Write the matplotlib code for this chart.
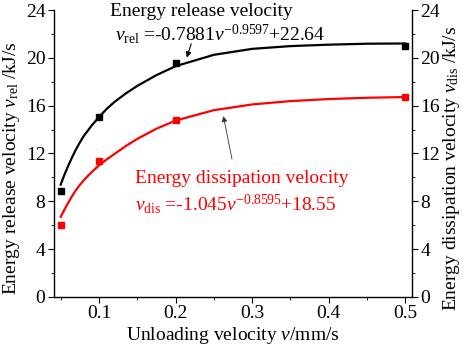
import matplotlib
matplotlib.use("Agg")
import matplotlib.pyplot as plt
from matplotlib.ticker import MultipleLocator

plt.rcParams['font.family'] = ['Liberation Serif', 'DejaVu Serif']
plt.rcParams['mathtext.fontset'] = 'custom'
plt.rcParams['mathtext.rm'] = 'Liberation Serif'
plt.rcParams['mathtext.it'] = 'Liberation Serif:italic'

# measured points
speed = [0.05, 0.1, 0.2, 0.5]
rel_pts = [8.85, 15.05, 19.6, 20.95]
dis_pts = [6.05, 11.4, 14.77, 16.7]

# fitted curves, values
curve_v = [0.05, 0.055, 0.06, 0.065, 0.07, 0.075, 0.08, 0.09, 0.1, 0.11, 0.12, 0.135, 0.15, 0.175,
           0.2, 0.25, 0.3, 0.35, 0.4, 0.45, 0.5]
rel_fit = [9.4, 10.25, 11.0, 11.7, 12.35, 12.92, 13.45, 14.3, 15.05, 15.72, 16.3, 17.02, 17.65, 18.55,
           19.3, 20.25, 20.75, 20.98, 21.1, 21.18, 21.2]
dis_fit = [6.7, 7.32, 7.9, 8.45, 8.95, 9.37, 9.75, 10.42, 11.0, 11.5, 11.95, 12.62, 13.22, 14.07,
           14.75, 15.62, 16.1, 16.38, 16.55, 16.66, 16.72]

red = '#ff0000'
fs = 14

fig = plt.figure(figsize=(4.64, 3.51), dpi=100)
ax = fig.add_axes([0.116, 0.154, 0.772, 0.8175])

ax.plot(curve_v, rel_fit, color='black', lw=1.6)
ax.plot(curve_v, dis_fit, color=red, lw=1.6)
ax.plot(speed, rel_pts, 's', color='black', ms=4.5)
ax.plot(speed, dis_pts, 's', color=red, ms=4.5)

ax.set_xlim(0.041, 0.509)
ax.set_ylim(0, 24)
ax.xaxis.set_major_locator(MultipleLocator(0.1))
ax.xaxis.set_minor_locator(MultipleLocator(0.05))
ax.yaxis.set_major_locator(MultipleLocator(4))
ax.yaxis.set_minor_locator(MultipleLocator(2))
ax.spines['top'].set_visible(False)
for s in ['left', 'right', 'bottom']:
    ax.spines[s].set_linewidth(1.0)
ax.tick_params(which='both', direction='out', labelsize=fs, right=True, labelright=True)
ax.tick_params(which='major', length=4, pad=2)
ax.tick_params(which='minor', length=2.5)

ax.set_xlabel(r'Unloading velocity $v$/mm/s', fontsize=fs, labelpad=2)
fig.text(0.024, 0.52, r'Energy release velocity $v_{\rm rel}$ /kJ/s', rotation=90,
         ha='center', va='center', fontsize=fs)
fig.text(0.974, 0.52, r'Energy dissipation velocity $v_{\rm dis}$ /kJ/s', rotation=90,
         ha='center', va='center', fontsize=fs)

ax.text(0.234, 23.9, 'Energy release velocity', ha='center', va='center', fontsize=fs)
ax.text(0.258, 22.0, r'$v_{\rm rel}$ =-0.7881$v^{-0.9597}$+22.64', ha='center', va='center', fontsize=fs)
ax.annotate('', xy=(0.2136, 19.8), xytext=(0.2216, 21.4),
            arrowprops=dict(arrowstyle='-|>', color='black', lw=0.8, mutation_scale=8))

ax.text(0.286, 9.9, 'Energy dissipation velocity', ha='center', va='center', fontsize=fs, color=red)
ax.text(0.279, 7.8, r'$v_{\rm dis}$ =-1.045$v^{-0.8595}$+18.55', ha='center', va='center', fontsize=fs, color=red)
ax.annotate('', xy=(0.2618, 15.35), xytext=(0.2745, 11.3),
            arrowprops=dict(arrowstyle='-|>', color='#333333', lw=0.6, mutation_scale=8))

fig.savefig('out.png', dpi=100)
